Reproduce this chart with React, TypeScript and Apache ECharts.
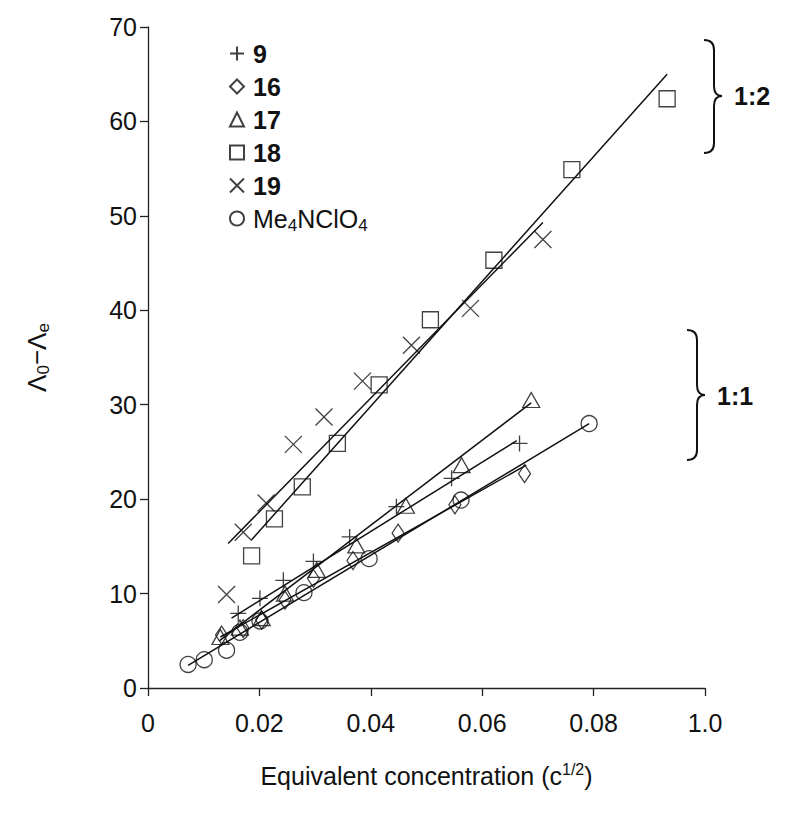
import React, { useEffect, useRef } from 'react';
import * as echarts from 'echarts';

// ---- data (x = c^1/2, y = Λ0 − Λe) ----
const legendNames = ['9', '16', '17', '18', '19', 'Me4NClO4'];
const xTickLabels: Record<string, string> = { '0': '0', '0.02': '0.02', '0.04': '0.04', '0.06': '0.06', '0.08': '0.08', '0.1': '1.0' };

const s9 = [[0.0162, 7.9], [0.0201, 9.5], [0.0243, 11.4], [0.0297, 13.4], [0.0362, 16.0], [0.0446, 19.2], [0.0545, 22.2], [0.0667, 25.9]];
const s16 = [[0.0132, 5.6], [0.0171, 6.3], [0.0204, 7.2], [0.0246, 9.3], [0.0297, 11.6], [0.0368, 13.5], [0.0449, 16.4], [0.0551, 19.4], [0.0676, 22.7]];
const s17 = [[0.0130, 5.4], [0.0165, 6.4], [0.0204, 7.4], [0.0246, 10.0], [0.0303, 12.5], [0.0374, 15.1], [0.0463, 19.3], [0.0563, 23.6], [0.0688, 30.5]];
const s18 = [[0.0186, 14.0], [0.0227, 17.9], [0.0277, 21.3], [0.0340, 25.9], [0.0415, 32.1], [0.0507, 39.0], [0.0621, 45.3], [0.0761, 54.9], [0.0932, 62.4]];
const s19 = [[0.0141, 9.9], [0.0171, 16.5], [0.0212, 19.6], [0.0261, 25.8], [0.0316, 28.7], [0.0385, 32.5], [0.0473, 36.3], [0.0579, 40.2], [0.0709, 47.5]];
const sMe = [[0.0072, 2.5], [0.0101, 3.0], [0.0141, 4.0], [0.0165, 5.9], [0.0201, 7.1], [0.0280, 10.1], [0.0397, 13.7], [0.0562, 19.9], [0.0792, 28.0]];

// fitted straight lines (end points)
const fit9 = [[0.0150, 7.4], [0.0662, 26.2]];
const fit16 = [[0.0130, 5.4], [0.0679, 23.6]];
const fit17 = [[0.0128, 5.0], [0.0688, 30.2]];
const fit18 = [[0.0186, 15.7], [0.0932, 65.0]];
const fit19 = [[0.0144, 15.3], [0.0709, 49.3]];
const fitMe = [[0.0072, 2.4], [0.0792, 28.0]];

const FONT = '"Liberation Sans", Arial, Helvetica, sans-serif';

const PLUS = 'path://M5,0L5,10M0,5L10,5';
const CROSS = 'path://M0,0L10,10M10,0L0,10';

echarts.graphic.registerShape(
  'brace12',
  echarts.graphic.extendPath('M704,40 Q714,40 714,50 L714,86 Q714,96 722,96 Q714,96 714,106 L714,143 Q714,153 704,153', {})
);
echarts.graphic.registerShape(
  'brace11',
  echarts.graphic.extendPath('M687,330 Q697,330 697,340 L697,385 Q697,395 705,395 Q697,395 697,405 L697,450 Q697,460 687,460', {})
);

export default function App() {
  const ref = useRef<HTMLDivElement>(null);
  useEffect(() => {
    if (!ref.current) return;
    const chart = echarts.init(ref.current, undefined, { renderer: 'svg' });

    const markerStyle = { color: 'rgba(0,0,0,0)', borderColor: '#111', borderWidth: 1.3 };
    const scatter = (name: string, data: number[][], symbol: string, size: number | number[]) => ({
      type: 'scatter',
      name,
      data,
      symbol,
      symbolSize: size,
      itemStyle: markerStyle,
      z: 3,
    });
    const fit = (name: string, data: number[][]) => ({
      type: 'line',
      name,
      data,
      symbol: 'none',
      lineStyle: { color: '#111', width: 1.5 },
      z: 2,
    });

    chart.setOption({
      animation: false,
      backgroundColor: '#fff',
      textStyle: { fontFamily: FONT },
      grid: { left: 148, right: 95, top: 27, bottom: 141, outerBoundsMode: 'none' },
      xAxis: {
        type: 'value',
        min: 0,
        max: 0.1,
        interval: 0.02,
        splitLine: { show: false },
        axisLine: { onZero: false, lineStyle: { color: '#222', width: 1.3 } },
        axisTick: { length: 8, lineStyle: { color: '#222', width: 1.3 } },
        axisLabel: {
          margin: 22,
          fontSize: 25,
          color: '#111',
          fontFamily: FONT,
          formatter: (v: number) => xTickLabels[String(+v.toFixed(2))] ?? String(v),
        },
        name: '{n|Equivalent concentration (c}{sup|1/2}{n|)}',
        nameLocation: 'middle',
        nameGap: 73,
        nameTextStyle: {
          fontFamily: FONT,
          rich: {
            n: { fontSize: 25, color: '#111', fontFamily: FONT },
            sup: { fontSize: 16, color: '#111', fontFamily: FONT, padding: [0, 0, 13, 0] },
          },
        },
      },
      yAxis: {
        type: 'value',
        min: 0,
        max: 70,
        interval: 10,
        splitLine: { show: false },
        axisLine: { onZero: false, lineStyle: { color: '#222', width: 1.3 } },
        axisTick: { length: 8, lineStyle: { color: '#222', width: 1.3 } },
        axisLabel: { margin: 11, fontSize: 25, color: '#111', fontFamily: FONT },
        name: '{n|Λ}{sub|0}{n|−Λ}{sub|e}',
        nameLocation: 'middle',
        nameGap: 96,
        nameTextStyle: {
          fontFamily: FONT,
          rich: {
            n: { fontSize: 26, color: '#111', fontFamily: FONT },
            sub: { fontSize: 17, color: '#111', fontFamily: FONT, padding: [13, 0, 0, 0] },
          },
        },
      },
      legend: {
        orient: 'vertical',
        left: 224,
        top: 36,
        itemWidth: 14,
        itemHeight: 14,
        itemGap: 8,
        data: legendNames,
        formatter: (name: string) =>
          name === 'Me4NClO4' ? '{n|Me}{s|4}{n2|NClO}{s|4}' : '{b|' + name + '}',
        textStyle: {
          fontFamily: FONT,
          rich: {
            b: { fontSize: 25, fontWeight: 'bold', color: '#111', fontFamily: FONT, lineHeight: 26, padding: [0, 0, 0, 4] },
            n: { fontSize: 25, color: '#111', fontFamily: FONT, lineHeight: 26, padding: [0, 0, 0, 4] },
            n2: { fontSize: 25, color: '#111', fontFamily: FONT, lineHeight: 26 },
            s: { fontSize: 17, color: '#111', fontFamily: FONT, padding: [13, 0, 0, 0] },
          },
        },
      },
      graphic: [
        { type: 'brace12', x: 0, y: 0, style: { fill: 'none', stroke: '#111', lineWidth: 2 } },
        { type: 'brace11', x: 0, y: 0, style: { fill: 'none', stroke: '#111', lineWidth: 2 } },
        { type: 'text', x: 734, y: 96, style: { text: '1:2', font: 'bold 25px ' + FONT, fill: '#111', verticalAlign: 'middle' } },
        { type: 'text', x: 717, y: 396, style: { text: '1:1', font: 'bold 25px ' + FONT, fill: '#111', verticalAlign: 'middle' } },
      ],
      series: [
        fit(' fit9', fit9),
        fit(' fit16', fit16),
        fit(' fit17', fit17),
        fit(' fit18', fit18),
        fit(' fit19', fit19),
        fit(' fitMe', fitMe),
        scatter('9', s9, PLUS, 16),
        scatter('16', s16, 'diamond', [12, 18]),
        scatter('17', s17, 'triangle', [17, 15]),
        scatter('18', s18, 'rect', 16),
        scatter('19', s19, CROSS, 17),
        scatter('Me4NClO4', sMe, 'circle', 16),
      ],
    });
    return () => chart.dispose();
  }, []);
  return <div ref={ref} style={{ position: 'fixed', left: 0, top: 0, width: 800, height: 829 }} />;
}
